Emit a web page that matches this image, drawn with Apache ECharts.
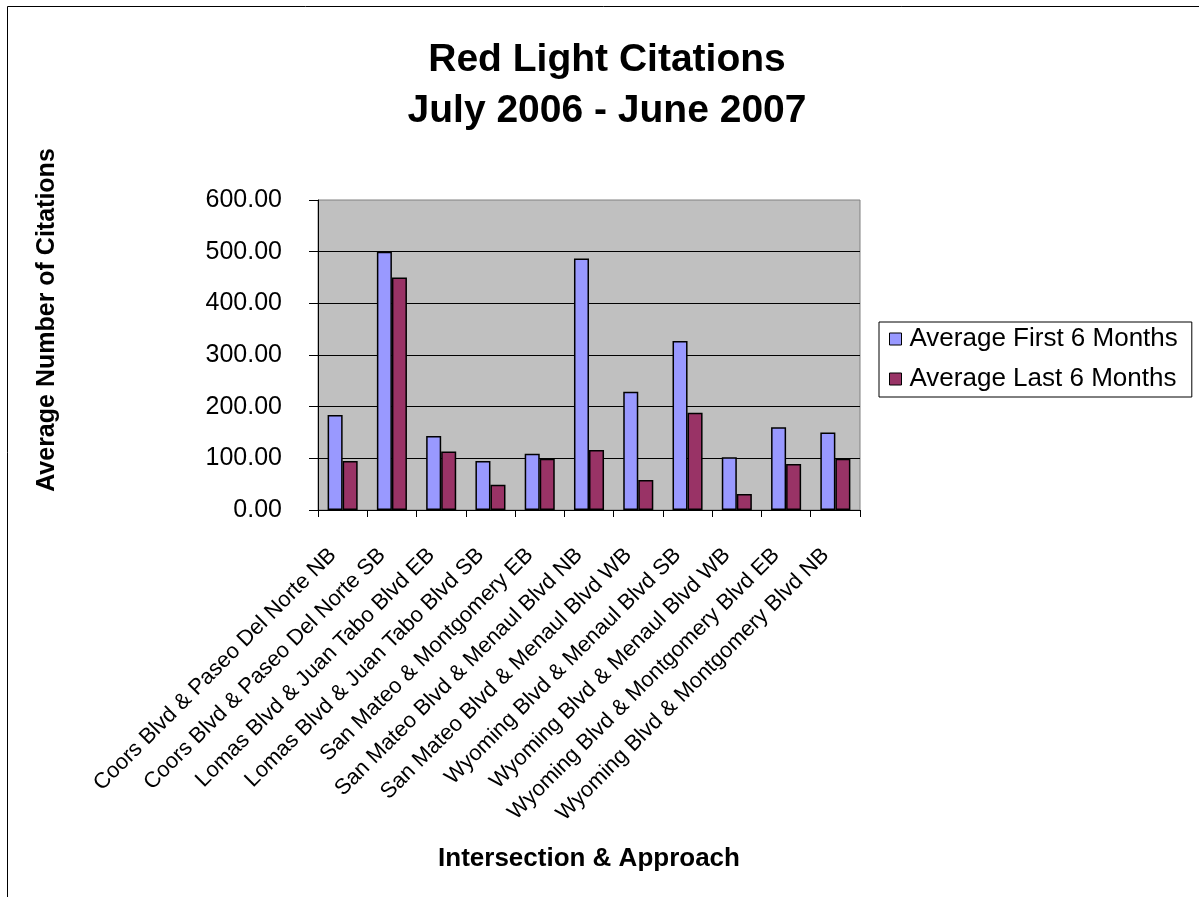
<!DOCTYPE html>
<html>
<head>
<meta charset="utf-8">
<script src="https://cdn.jsdelivr.net/npm/echarts@6/dist/echarts.min.js"></script>
<style>
html,body{margin:0;padding:0;background:#fff;}
#chart{width:1199px;height:897px;}
</style>
</head>
<body>
<div id="chart"></div>
<script>
var categories = [
  "Coors Blvd & Paseo Del Norte NB",
  "Coors Blvd & Paseo Del Norte SB",
  "Lomas Blvd & Juan Tabo Blvd EB",
  "Lomas Blvd & Juan Tabo Blvd SB",
  "San Mateo & Montgomery EB",
  "San Mateo Blvd & Menaul Blvd NB",
  "San Mateo Blvd & Menaul Blvd WB",
  "Wyoming Blvd & Menaul Blvd SB",
  "Wyoming Blvd & Menaul Blvd WB",
  "Wyoming Blvd & Montgomery Blvd EB",
  "Wyoming Blvd & Montgomery Blvd NB"
];
var firstSix = [184, 500, 143, 95, 109, 487, 229, 327, 102, 160, 150];
var lastSix  = [95, 450, 113, 49, 99, 116, 58, 188, 31, 89, 99];
var seriesNames = ["Average First 6 Months", "Average Last 6 Months"];
var titleLines = ["Red Light Citations", "July 2006 - June 2007"];
var yAxisTitle = "Average Number of Citations";
var xAxisTitle = "Intersection & Approach";

var FONT = "Liberation Sans, Arial, sans-serif";
var chart = echarts.init(document.getElementById('chart'));
chart.setOption({
  backgroundColor: '#ffffff',
  animation: false,
  title: {
    text: titleLines.join('\n'),
    left: 602, top: 30, textAlign: 'center',
    textStyle: {fontFamily: FONT, fontWeight: 'bold', fontSize: 39, lineHeight: 51, color: '#000'}
  },
  graphic: [{
    type: 'rect', left: 5, top: 4, silent: true,
    shape: {width: 1300, height: 1000},
    style: {fill: 'none', stroke: '#000', lineWidth: 1}
  }, {
    type: 'text', x: 47, y: 320, rotation: Math.PI / 2, silent: true,
    style: {text: yAxisTitle, fontFamily: FONT, fontWeight: 'bold', fontSize: 25,
      fill: '#000', textAlign: 'center', textVerticalAlign: 'middle'}
  }],
  legend: {
    orient: 'vertical', left: 879, top: 322,
    padding: [3, 14, 4, 10], itemGap: 12,
    itemWidth: 12, itemHeight: 12, icon: 'rect',
    borderColor: '#000', borderWidth: 1,
    itemStyle: {borderColor: '#000', borderWidth: 1},
    textStyle: {fontFamily: FONT, fontSize: 26, lineHeight: 28, color: '#000', padding: [0, 0, 0, 3]},
    data: seriesNames
  },
  grid: {
    left: 318, right: 339, top: 200, bottom: 387,
    show: true, backgroundColor: '#c0c0c0', borderColor: '#808080', borderWidth: 1,
    containLabel: false
  },
  xAxis: {
    type: 'category', data: categories,
    name: xAxisTitle, nameLocation: 'middle', nameGap: 336,
    nameTextStyle: {fontFamily: FONT, fontWeight: 'bold', fontSize: 26, color: '#000'},
    axisLine: {lineStyle: {color: '#000', width: 1}},
    axisTick: {show: true, length: 7, alignWithLabel: false, lineStyle: {color: '#000'}},
    axisLabel: {rotate: 45, interval: 0, margin: 32, padding: [0, 14, 0, 0],
      fontFamily: FONT, fontSize: 22, color: '#000'}
  },
  yAxis: {
    type: 'value', min: 0, max: 600, interval: 100,
    axisLine: {show: true, lineStyle: {color: '#000', width: 1}},
    axisTick: {show: true, length: 9, lineStyle: {color: '#000'}},
    axisLabel: {margin: 36, fontFamily: FONT, fontSize: 25, color: '#000',
      formatter: function (v) { return v.toFixed(2); }},
    splitLine: {show: true, showMaxLine: false, lineStyle: {color: '#000', width: 1}}
  },
  series: [{
    name: seriesNames[0], type: 'bar', data: firstSix,
    barGap: '0%', barCategoryGap: '39%',
    itemStyle: {color: '#9999ff', borderColor: '#000', borderWidth: 1.5}
  }, {
    name: seriesNames[1], type: 'bar', data: lastSix,
    barGap: '0%', barCategoryGap: '39%',
    itemStyle: {color: '#993366', borderColor: '#000', borderWidth: 1.5}
  }]
});
</script>
</body>
</html>
